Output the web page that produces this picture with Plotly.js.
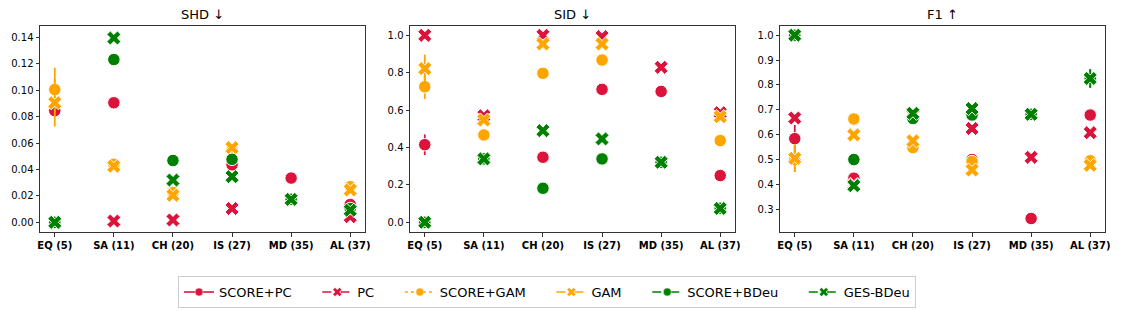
<!DOCTYPE html>
<html>
<head>
<meta charset="utf-8">
<script src="https://cdn.plot.ly/plotly-3.0.1.min.js"></script>
<style>html,body{margin:0;padding:0;background:#fff;}#chart{width:1121px;height:311px;}</style>
</head>
<body>
<div id="chart"></div>
<script>
// ---- data ----
const categories = ['EQ (5)', 'SA (11)', 'CH (20)', 'IS (27)', 'MD (35)', 'AL (37)'];
const methods = ['SCORE+PC', 'PC', 'SCORE+GAM', 'GAM', 'SCORE+BDeu', 'GES-BDeu'];
const panelTitles = ['SHD ↓', 'SID ↓', 'F1 ↑'];

// SHD
const shd_scorePC   = [0.0845, 0.0905, 0.023, 0.0435, 0.0335, 0.0135];
const shd_PC        = [0.0, 0.001, 0.0018, 0.0105, 0.017, 0.0043];
const shd_scoreGAM  = [0.1005, 0.044, 0.0225, 0.055, null, 0.027];
const shd_GAM       = [0.0905, 0.0425, 0.0205, 0.0565, null, 0.0245];
const shd_scoreBDeu = [0.0, 0.1232, 0.0468, 0.0477, 0.0175, 0.0105];
const shd_GESBDeu   = [0.0, 0.1395, 0.032, 0.0346, 0.0174, 0.0092];
const shd_err_scorePC   = [0.003, 0, 0, 0, 0, 0];
const shd_err_PC        = [0, 0, 0, 0, 0, 0];
const shd_err_scoreGAM  = [0.0165, 0, 0, 0, 0, 0];
const shd_err_GAM       = [0.018, 0, 0, 0, 0, 0];
const shd_err_scoreBDeu = [0, 0, 0, 0, 0, 0];
const shd_err_GESBDeu   = [0, 0, 0, 0, 0, 0];

// SID
const sid_scorePC   = [0.415, 0.34, 0.348, 0.711, 0.70, 0.25];
const sid_PC        = [1.0, 0.57, 1.0, 0.993, 0.829, 0.586];
const sid_scoreGAM  = [0.725, 0.467, 0.797, 0.868, null, 0.437];
const sid_GAM       = [0.822, 0.547, 0.954, 0.954, null, 0.565];
const sid_scoreBDeu = [0.0, 0.339, 0.182, 0.339, 0.321, 0.075];
const sid_GESBDeu   = [0.0, 0.339, 0.49, 0.446, 0.321, 0.074];
const sid_err_scorePC   = [0.055, 0, 0, 0, 0, 0];
const sid_err_PC        = [0, 0, 0, 0, 0, 0];
const sid_err_scoreGAM  = [0.065, 0, 0, 0, 0, 0];
const sid_err_GAM       = [0.075, 0, 0, 0, 0, 0];
const sid_err_scoreBDeu = [0, 0, 0, 0, 0, 0];
const sid_err_GESBDeu   = [0, 0, 0, 0, 0, 0];

// F1
const f1_scorePC   = [0.584, 0.425, 0.67, 0.50, 0.263, 0.679];
const f1_PC        = [0.667, 0.40, 0.68, 0.625, 0.509, 0.608];
const f1_scoreGAM  = [0.50, 0.663, 0.548, 0.492, null, 0.495];
const f1_GAM       = [0.505, 0.599, 0.575, 0.458, null, 0.477];
const f1_scoreBDeu = [1.0, 0.50, 0.665, 0.679, 0.682, 0.826];
const f1_GESBDeu   = [1.0, 0.395, 0.686, 0.705, 0.682, 0.826];
const f1_err_scorePC   = [0.055, 0, 0, 0, 0, 0];
const f1_err_PC        = [0, 0, 0, 0, 0, 0];
const f1_err_scoreGAM  = [0.05, 0, 0, 0, 0, 0];
const f1_err_GAM       = [0.055, 0, 0, 0, 0, 0];
const f1_err_scoreBDeu = [0, 0, 0, 0, 0, 0.035];
const f1_err_GESBDeu   = [0, 0, 0, 0, 0, 0.038];

const shdTicks = [0, 0.02, 0.04, 0.06, 0.08, 0.10, 0.12, 0.14];
const sidTicks = [0, 0.2, 0.4, 0.6, 0.8, 1.0];
const f1Ticks  = [0.3, 0.4, 0.5, 0.6, 0.7, 0.8, 0.9, 1.0];

// ---- styles ----
const RED = '#dc143c', ORANGE = '#ffa500', GREEN = '#008000';
const colors  = [RED, RED, ORANGE, ORANGE, GREEN, GREEN];
const symbols = ['circle', 'x', 'circle', 'x', 'circle', 'x'];
const dashes  = ['solid', 'dash', 'dot', 'dash', 'dashdot', 'dashdot'];

const panels = [
  {vals: [shd_scorePC, shd_PC, shd_scoreGAM, shd_GAM, shd_scoreBDeu, shd_GESBDeu],
   errs: [shd_err_scorePC, shd_err_PC, shd_err_scoreGAM, shd_err_GAM, shd_err_scoreBDeu, shd_err_GESBDeu]},
  {vals: [sid_scorePC, sid_PC, sid_scoreGAM, sid_GAM, sid_scoreBDeu, sid_GESBDeu],
   errs: [sid_err_scorePC, sid_err_PC, sid_err_scoreGAM, sid_err_GAM, sid_err_scoreBDeu, sid_err_GESBDeu]},
  {vals: [f1_scorePC, f1_PC, f1_scoreGAM, f1_GAM, f1_scoreBDeu, f1_GESBDeu],
   errs: [f1_err_scorePC, f1_err_PC, f1_err_scoreGAM, f1_err_GAM, f1_err_scoreBDeu, f1_err_GESBDeu]}
];

const traces = [];
panels.forEach((p, pi) => {
  const xa = pi === 0 ? 'x' : 'x' + (pi + 1);
  const ya = pi === 0 ? 'y' : 'y' + (pi + 1);
  methods.forEach((m, mi) => {
    traces.push({
      type: 'scatter', mode: 'markers', name: m, showlegend: false,
      x: categories, y: p.vals[mi], xaxis: xa, yaxis: ya,
      marker: {symbol: symbols[mi], size: symbols[mi] === 'x' ? 12.5 : 12.5, color: colors[mi],
               line: {color: 'white', width: 1}},
      error_y: {type: 'data', array: p.errs[mi], visible: true, color: colors[mi], thickness: 1.8, width: 0},
      cliponaxis: false, hoverinfo: 'x+y+name'
    });
  });
});
// legend entries (line style + marker); trailing no-break spaces widen the column gap
const GAP = '\u00a0\u00a0\u00a0\u00a0\u00a0';
methods.forEach((m, mi) => {
  traces.push({
    type: 'scatter', mode: 'lines+markers', name: mi < methods.length - 1 ? m + GAP : m, showlegend: true,
    x: [null], y: [null], xaxis: 'x', yaxis: 'y',
    line: {color: colors[mi], dash: dashes[mi], width: 1.6},
    marker: {symbol: symbols[mi], size: 8, color: colors[mi], line: {color: 'white', width: 0.5}}
  });
});

const W = 1121;
const doms = [[40 / W, 365 / W], [410 / W, 735 / W], [780 / W, 1105 / W]];
const font = {family: 'DejaVu Sans, sans-serif', size: 10, color: '#000'};

function xaxis(i) {
  return {
    domain: doms[i], anchor: i === 0 ? 'y' : 'y' + (i + 1),
    type: 'category', range: [-0.25, 5.25],
    showline: true, mirror: true, linecolor: '#333', linewidth: 1,
    ticks: 'outside', ticklen: 3.5, tickcolor: '#333', tickwidth: 1,
    showgrid: false, zeroline: false, automargin: false,
    tickfont: {family: 'DejaVu Sans, sans-serif', size: 10, color: '#000', weight: 'bold'}
  };
}
function yaxis(i, range, ticks, fmt) {
  return {
    anchor: i === 0 ? 'x' : 'x' + (i + 1), range: range,
    tickvals: ticks, tickformat: fmt,
    showline: true, mirror: true, linecolor: '#333', linewidth: 1,
    ticks: 'outside', ticklen: 3.5, tickcolor: '#333', tickwidth: 1,
    showgrid: false, zeroline: false, automargin: false,
    tickfont: font
  };
}

const layout = {
  width: 1121, height: 311,
  margin: {l: 0, r: 0, t: 26, b: 79},
  paper_bgcolor: '#fff', plot_bgcolor: '#fff',
  font: font, showlegend: true,
  xaxis: xaxis(0), xaxis2: xaxis(1), xaxis3: xaxis(2),
  yaxis: yaxis(0, [-0.0073, 0.1486], shdTicks, '.2f'),
  yaxis2: yaxis(1, [-0.052, 1.05], sidTicks, '.1f'),
  yaxis3: yaxis(2, [0.2087, 1.037], f1Ticks, '.1f'),
  annotations: panelTitles.map((t, i) => ({
    text: t, xref: 'paper', yref: 'paper', x: (doms[i][0] + doms[i][1]) / 2, y: 1,
    xanchor: 'center', yanchor: 'bottom', yshift: 2, showarrow: false,
    font: {family: 'DejaVu Sans, sans-serif', size: 13, color: '#000'}
  })),
  legend: {
    orientation: 'h', x: 547 / W, xanchor: 'center', y: -0.214, yanchor: 'top',
    bgcolor: '#fff', bordercolor: '#ccc', borderwidth: 1,
    font: {family: 'DejaVu Sans, sans-serif', size: 13, color: '#000'},
    itemwidth: 30, tracegroupgap: 0
  }
};

Plotly.newPlot('chart', traces, layout, {displayModeBar: false, staticPlot: true});
</script>
</body>
</html>
